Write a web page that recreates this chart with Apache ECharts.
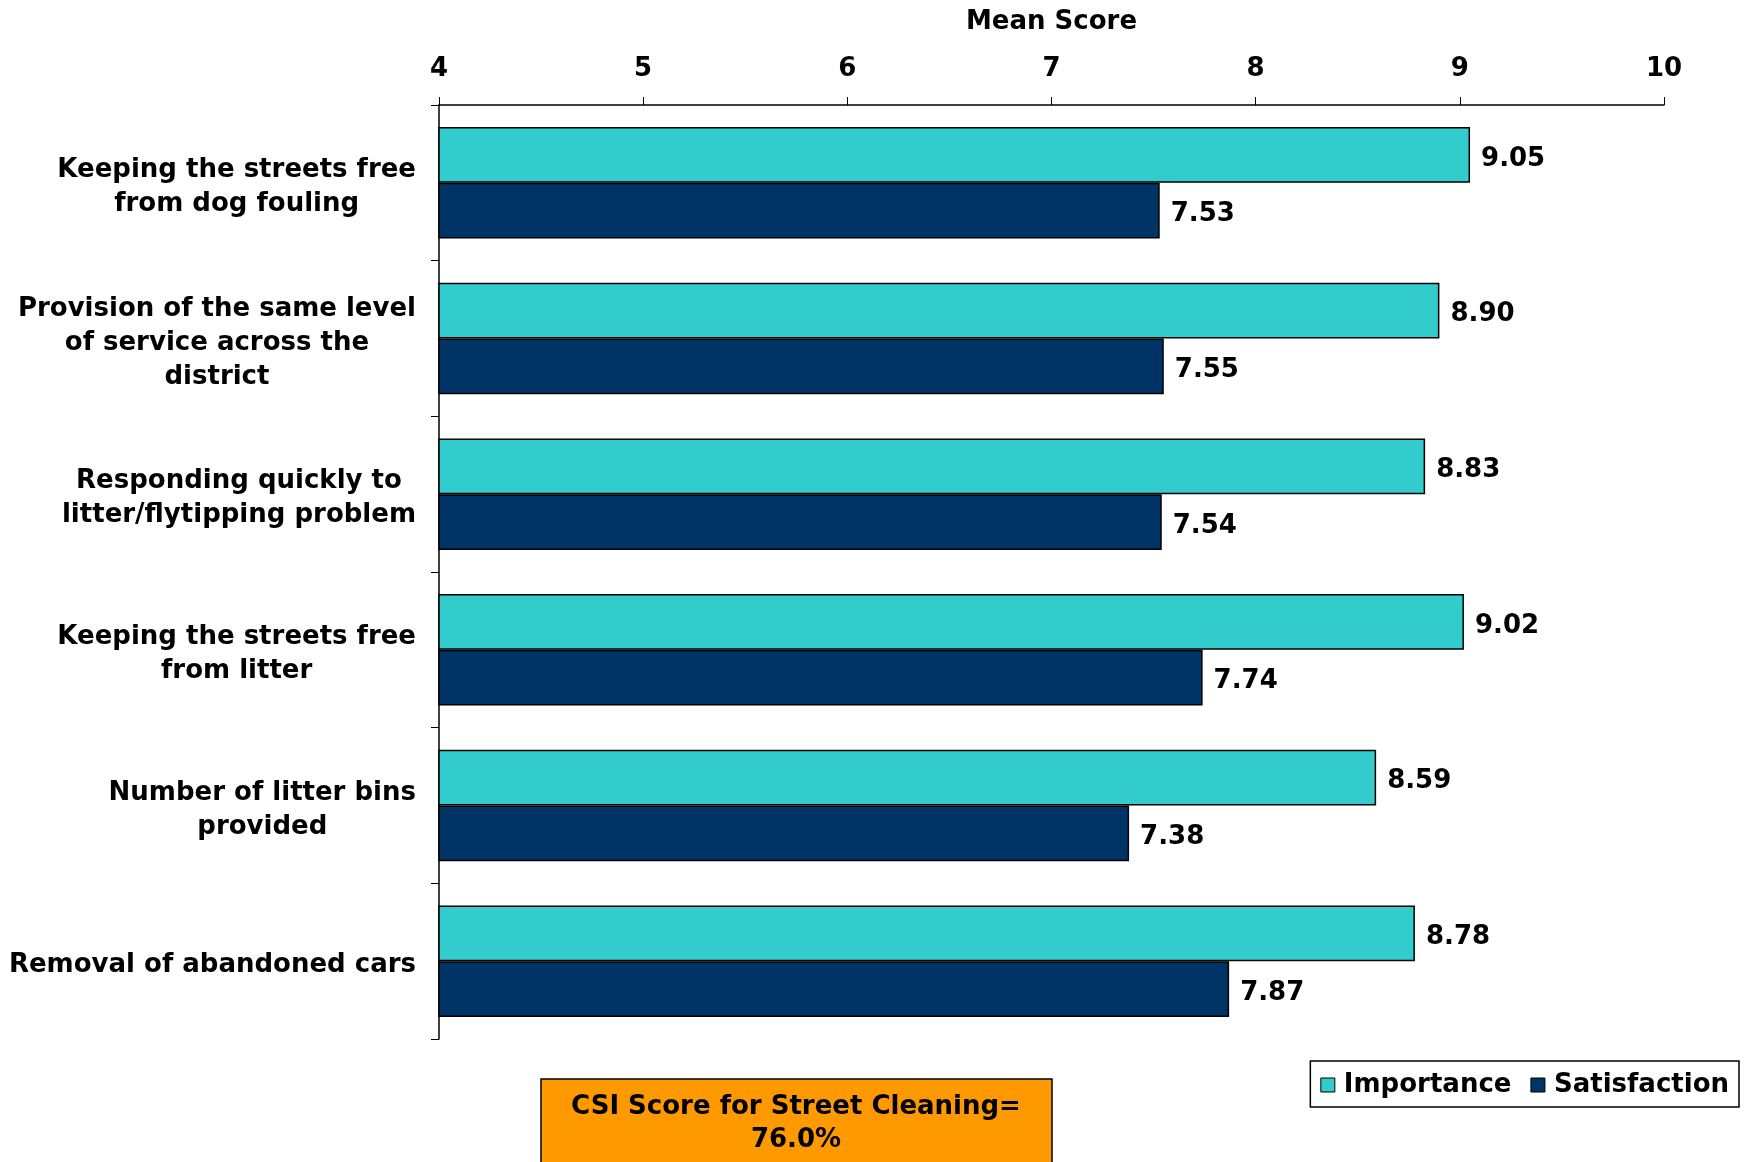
<!DOCTYPE html>
<html>
<head>
<meta charset="utf-8">
<script src="https://cdn.jsdelivr.net/npm/echarts@6/dist/echarts.min.js"></script>
<style>
html,body{margin:0;padding:0;background:#fff;}
#chart{width:1748px;height:1162px;}
</style>
</head>
<body>
<div id="chart"></div>
<script>
const categories = [
  "Keeping the streets free\nfrom dog fouling",
  "Provision of the same level\nof service across the\ndistrict",
  "Responding quickly to\nlitter/flytipping problem",
  "Keeping the streets free\nfrom litter",
  "Number of litter bins\nprovided",
  "Removal of abandoned cars"
];
const importance = [9.05, 8.90, 8.83, 9.02, 8.59, 8.78];
const satisfaction = [7.53, 7.55, 7.54, 7.74, 7.38, 7.87];
const seriesNames = ["Importance", "Satisfaction"];
const axisTitle = "Mean Score";
const csiLabel = "CSI Score for Street Cleaning=";
const csiScore = "76.0%";

const FONT = "DejaVu Sans";
const FS = 26;
const chart = echarts.init(document.getElementById('chart'), null, {renderer: 'canvas'});

const labelStyle = {
  show: true,
  position: 'right',
  distance: 11,
  offset: [0, 4],
  color: '#000',
  fontFamily: FONT,
  fontWeight: 'bold',
  fontSize: FS,
  formatter: p => p.value.toFixed(2)
};

chart.setOption({
  backgroundColor: '#fff',
  animation: false,
  grid: {left: 439, right: 84, top: 105, bottom: 123, containLabel: false},
  xAxis: {
    type: 'value',
    position: 'top',
    min: 4, max: 10, interval: 1,
    name: axisTitle,
    nameLocation: 'middle',
    nameGap: 70,
    nameTextStyle: {fontFamily: FONT, fontWeight: 'bold', fontSize: FS, color: '#000'},
    axisLine: {show: true, lineStyle: {color: '#000', width: 1.5}},
    axisTick: {show: true, length: 8, lineStyle: {color: '#000', width: 1}},
    axisLabel: {margin: 23, fontFamily: FONT, fontWeight: 'bold', fontSize: FS, color: '#000'},
    splitLine: {show: false}
  },
  yAxis: {
    type: 'category',
    inverse: true,
    data: categories,
    axisLine: {show: true, lineStyle: {color: '#000', width: 1.5}},
    axisTick: {show: true, length: 8, lineStyle: {color: '#000', width: 1}},
    axisLabel: {
      margin: 23,
      color: '#000',
      fontFamily: FONT, fontWeight: 'bold', fontSize: FS,
      lineHeight: 34,
      padding: [9, 0, 0, 0],
      formatter: v => v.split('\n').map(l => '{c|' + l + '}').join('\n'),
      rich: {c: {align: 'center', fontFamily: FONT, fontWeight: 'bold', fontSize: FS, lineHeight: 34, color: '#000'}}
    }
  },
  legend: {
    data: seriesNames,
    right: 9, top: 1061,
    orient: 'horizontal',
    icon: 'rect',
    itemWidth: 14, itemHeight: 14,
    itemGap: 19,
    padding: [11, 10, 9, 10],
    borderColor: '#000', borderWidth: 1.5,
    backgroundColor: '#fff',
    textStyle: {fontFamily: FONT, fontWeight: 'bold', fontSize: FS, color: '#000', padding: [0, 0, 0, 4]},
    itemStyle: {borderColor: '#000', borderWidth: 1}
  },
  series: [
    {
      name: seriesNames[0], type: 'bar', data: importance,
      barGap: '0%', barCategoryGap: '28.4%',
      itemStyle: {color: '#33CCCC', borderColor: '#000', borderWidth: 1.5},
      label: labelStyle
    },
    {
      name: seriesNames[1], type: 'bar', data: satisfaction,
      barGap: '0%', barCategoryGap: '28.4%',
      itemStyle: {color: '#003366', borderColor: '#000', borderWidth: 1.5},
      label: labelStyle
    }
  ],
  graphic: [
    {
      type: 'rect',
      shape: {x: 541, y: 1079, width: 511, height: 110},
      style: {fill: '#FF9900', stroke: '#000', lineWidth: 1.5},
      z: 10
    },
    {
      type: 'text',
      x: 796, y: 1124,
      style: {
        text: csiLabel + '\n' + csiScore,
        fontFamily: FONT, fontWeight: 'bold', fontSize: FS,
        lineHeight: 33,
        fill: '#000', align: 'center', verticalAlign: 'middle'
      },
      z: 11
    }
  ]
});
</script>
</body>
</html>
